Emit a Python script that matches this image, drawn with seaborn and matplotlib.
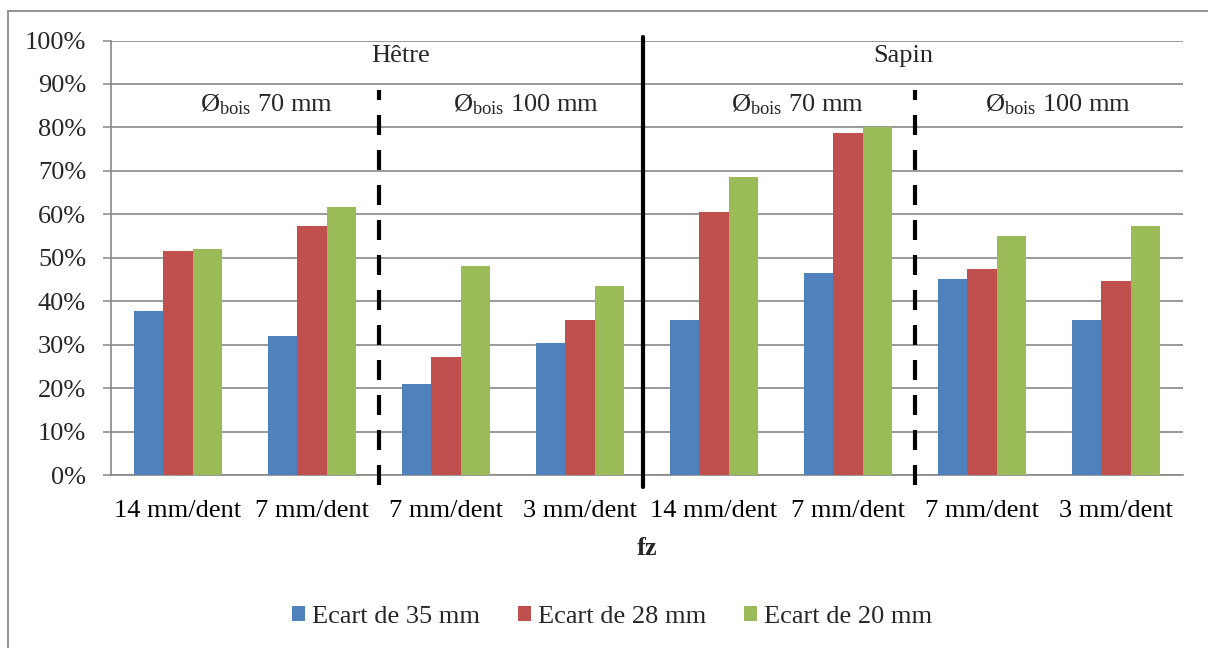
import matplotlib
matplotlib.use("Agg")
import matplotlib.pyplot as plt
from matplotlib.patches import Rectangle
import seaborn as sns
import pandas as pd

# ---- data ----
categories = ["14 mm/dent", "7 mm/dent", "7 mm/dent", "3 mm/dent",
              "14 mm/dent", "7 mm/dent", "7 mm/dent", "3 mm/dent"]
series = ["Ecart de 35 mm", "Ecart de 28 mm", "Ecart de 20 mm"]
ecart_35 = [0.377, 0.321, 0.210, 0.303, 0.356, 0.466, 0.451, 0.357]
ecart_28 = [0.515, 0.573, 0.271, 0.356, 0.605, 0.788, 0.473, 0.446]
ecart_20 = [0.520, 0.616, 0.480, 0.434, 0.685, 0.800, 0.549, 0.574]
yticks = [i / 10 for i in range(11)]
ytick_labels = [f"{i * 10}%" for i in range(11)]
wood_labels = ["Hêtre", "Sapin"]
diam_labels = ["Ø$_{\\mathrm{bois}}$ 70 mm", "Ø$_{\\mathrm{bois}}$ 100 mm",
               "Ø$_{\\mathrm{bois}}$ 70 mm", "Ø$_{\\mathrm{bois}}$ 100 mm"]
colors = ["#4F81BD", "#C0504D", "#9BBB59"]

# ---- long table ----
pos = [str(i) for i in range(len(categories))]
rows = []
for s, vals in zip(series, [ecart_35, ecart_28, ecart_20]):
    for p, v in zip(pos, vals):
        rows.append({"pos": p, "val": v, "serie": s})
df = pd.DataFrame(rows)

sns.set_theme(style="white")
plt.rcParams["font.family"] = ["Liberation Serif", "DejaVu Serif"]
plt.rcParams["mathtext.fontset"] = "custom"
plt.rcParams["mathtext.rm"] = "Liberation Serif"
plt.rcParams["mathtext.it"] = "Liberation Serif:italic"
plt.rcParams["mathtext.bf"] = "Liberation Serif:bold"

W, H = 1208, 648
fig = plt.figure(figsize=(W / 100, H / 100), dpi=100)
fig.patch.set_facecolor("white")
ax = fig.add_axes([111 / W, (H - 475) / H, (1183 - 111) / W, (475 - 40.5) / H])

FS = 19
GRID = "#878787"

sns.barplot(data=df, x="pos", y="val", hue="serie", order=pos, hue_order=series,
            palette=colors, saturation=1, width=0.66, linewidth=0, ax=ax, zorder=3)

ax.set_xlim(-0.5, len(categories) - 0.5)
ax.set_ylim(0, 1)
ax.set_yticks(yticks)
ax.set_yticklabels(ytick_labels, fontsize=FS)
ax.set_xticks(range(len(categories)))
ax.set_xticklabels(categories, fontsize=FS)
ax.set_xticks([i - 0.5 for i in range(len(categories) + 1)], minor=True)
ax.tick_params(axis="x", which="major", length=0, pad=18, colors="black")
ax.tick_params(axis="x", which="minor", length=6, width=1.1, color=GRID, direction="out")
ax.tick_params(axis="y", length=6, width=1.1, color=GRID, pad=12, left=True, direction="out")
ax.yaxis.grid(True, color=GRID, linewidth=1.2, zorder=0)
ax.xaxis.grid(False)
ax.set_axisbelow(True)
for side in ["top", "right"]:
    ax.spines[side].set_visible(False)
for side in ["left", "bottom"]:
    ax.spines[side].set_color(GRID)
    ax.spines[side].set_linewidth(1.2)
ax.set_ylabel("")
ax.set_xlabel("fz", fontsize=FS, fontweight="bold", labelpad=11)

# separators
ax.plot([3.47, 3.47], [-0.028, 1.007], color="black", lw=3, clip_on=False, zorder=5)
for xs in [1.5, 5.5]:
    ax.plot([xs, xs], [-0.023, 0.885], color="black", lw=3, clip_on=False, zorder=5,
            linestyle=(0, (4.8, 3.6)))

# group annotations
for xt, lab in zip([1.66, 5.41], wood_labels):
    ax.text(xt, 0.95, lab, fontsize=FS, ha="center", va="baseline", zorder=6)
for xt, lab in zip([0.657, 2.60, 4.62, 6.57], diam_labels):
    ax.text(xt, 0.837, lab, fontsize=FS, ha="center", va="baseline", zorder=6)

# legend
handles, labels = ax.get_legend_handles_labels()
ax.get_legend().remove()
fig.legend(handles, labels, loc="center", bbox_to_anchor=(612 / W, 1 - 617 / H),
           ncol=3, frameon=False, fontsize=FS, handlelength=0.5, handleheight=0.5,
           handletextpad=0.25, columnspacing=1.45, borderaxespad=0)

# chart border
fig.add_artist(Rectangle((8 / W, -0.1), 1.2, 1.1 - 11 / H, transform=fig.transFigure,
                         fill=False, edgecolor="#8a8a8a", linewidth=1.3))

fig.savefig("out.png", dpi=100, facecolor="white")
